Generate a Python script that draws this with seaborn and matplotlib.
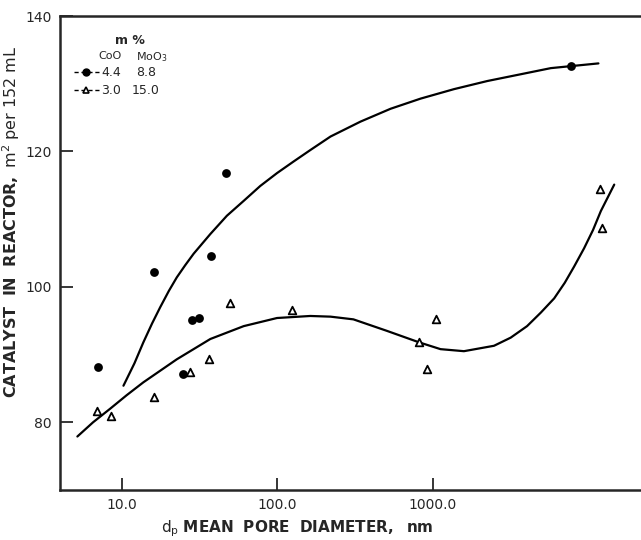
import matplotlib
matplotlib.use("Agg")
import matplotlib.pyplot as plt
import seaborn as sns
import pandas as pd

# data
# 4.4 CoO / 8.8 MoO3 (circles)
circle_d = [7.0, 16.1, 24.5, 28.2, 31.5, 37.3, 46.9, 7800]
circle_area = [88.1, 102.2, 87.2, 95.1, 95.4, 104.5, 116.8, 132.6]

# 3.0 CoO / 15.0 MoO3 (triangles)
tri_d = [6.9, 8.45, 16.0, 27.3, 36.2, 49.8, 124.5, 820, 925, 1050, 12000, 12250]
tri_area = [81.6, 81.0, 83.8, 87.5, 89.4, 97.6, 96.6, 91.8, 87.8, 95.2, 114.5, 108.7]

# hand-drawn trend curves
upper_d = [10.2, 12.0, 13.7, 15.6, 17.6, 20.0, 22.5, 25.5, 28.9, 37.0, 47.3, 60.7, 77.6, 99.5,
           127, 163, 220, 343, 536, 837, 1374, 2254, 3700, 5770, 7800, 11700]
upper_area = [85.4, 88.7, 91.8, 94.6, 97.0, 99.4, 101.4, 103.2, 104.9, 107.8, 110.5, 112.7, 114.9, 116.8,
              118.5, 120.2, 122.2, 124.4, 126.3, 127.8, 129.2, 130.4, 131.4, 132.3, 132.6, 133.0]

lower_d = [5.15, 6.5, 8.37, 10.7, 13.7, 22.5, 37.0, 60.7, 99.5, 163, 220, 309, 508, 820,
           1125, 1592, 2487, 3185, 4060, 4980, 6070, 7100, 8160, 9460, 10800, 12130, 14790]
lower_area = [77.9, 80.0, 82.0, 84.0, 85.9, 89.3, 92.3, 94.2, 95.4, 95.7, 95.6, 95.2, 93.5, 91.8,
              90.8, 90.5, 91.3, 92.5, 94.2, 96.2, 98.3, 100.6, 103.0, 105.7, 108.4, 111.2, 115.1]

xticks = [10, 100, 1000]
xtick_labels = ["10.0", "100.0", "1000.0"]
yticks = [80, 100, 120, 140]

sns.set_theme(style="ticks")
plt.rcParams['font.family'] = ['DejaVu Sans']

fig = plt.figure(figsize=(6.41, 5.40), dpi=100)
ax = fig.add_axes([60 / 641, 50 / 540, 1 - 60 / 641, 474 / 540])

curves = pd.concat([
    pd.DataFrame({'d': upper_d, 'area': upper_area, 'curve': 'upper'}),
    pd.DataFrame({'d': lower_d, 'area': lower_area, 'curve': 'lower'}),
])
sns.lineplot(data=curves, x='d', y='area', units='curve', estimator=None,
             sort=False, color='black', linewidth=1.6, ax=ax)

sns.scatterplot(x=circle_d, y=circle_area, marker='o', s=40, color='black',
                edgecolor='black', linewidth=0, ax=ax, zorder=3)
sns.scatterplot(x=tri_d, y=tri_area, marker='^', s=30, facecolor='white',
                edgecolor='black', linewidth=1.3, ax=ax, zorder=3)

ax.set_xscale('log')
ax.set_xlim(3.98, 22000)
ax.set_ylim(70, 140)
ax.set_xticks(xticks)
ax.set_xticklabels(xtick_labels)
ax.minorticks_off()
ax.set_yticks(yticks)
ax.tick_params(direction='in', length=9, width=1.3, labelsize=10, pad=6)
for side in ['left', 'bottom', 'top']:
    ax.spines[side].set_linewidth(1.8)
ax.spines['right'].set_visible(False)

ax.set_xlabel(r"d$_\mathrm{p}$ $\bf{MEAN\ \ PORE\ \ DIAMETER,\ \ nm}$", fontsize=11)
ax.set_ylabel(r"$\bf{CATALYST\ \ IN\ \ REACTOR,}$ m$^2$ per 152 mL", fontsize=11.5)
ax.xaxis.set_label_coords((297 - 60) / 581, (490 - 518) / 474)
ax.yaxis.set_label_coords((22 - 60) / 581, (490 - 222) / 474)

# legend block drawn as a small table
tr = ax.transAxes
def ax_xy(px, py):
    return ((px - 60) / 581, (490 - py) / 474)

fs = 9
ax.text(*ax_xy(130, 40), "m %", transform=tr, fontsize=fs, ha='center', va='center', fontweight='bold')
ax.text(*ax_xy(110, 56), "CoO", transform=tr, fontsize=8, ha='center', va='center')
ax.text(*ax_xy(152, 57), r"MoO$_3$", transform=tr, fontsize=8, ha='center', va='center')
ax.text(*ax_xy(111, 72), "4.4", transform=tr, fontsize=fs, ha='center', va='center')
ax.text(*ax_xy(146, 72), "8.8", transform=tr, fontsize=fs, ha='center', va='center')
ax.text(*ax_xy(111, 90), "3.0", transform=tr, fontsize=fs, ha='center', va='center')
ax.text(*ax_xy(146, 90), "15.0", transform=tr, fontsize=fs, ha='center', va='center')

x0, y1 = ax_xy(74, 72)
x1, _ = ax_xy(99, 72)
xm, _ = ax_xy(86, 72)
_, y2 = ax_xy(74, 90)
ax.plot([x0, x1], [y1, y1], transform=tr, color='black', linewidth=1, linestyle=(0, (3, 2)))
ax.plot([xm], [y1], transform=tr, marker='o', color='black', markersize=5)
ax.plot([x0, x1], [y2, y2], transform=tr, color='black', linewidth=1, linestyle=(0, (3, 2)))
ax.plot([xm], [y2], transform=tr, marker='^', markerfacecolor='white',
        markeredgecolor='black', markeredgewidth=1.2, markersize=5, color='black')

fig.savefig('out.png', dpi=100)
